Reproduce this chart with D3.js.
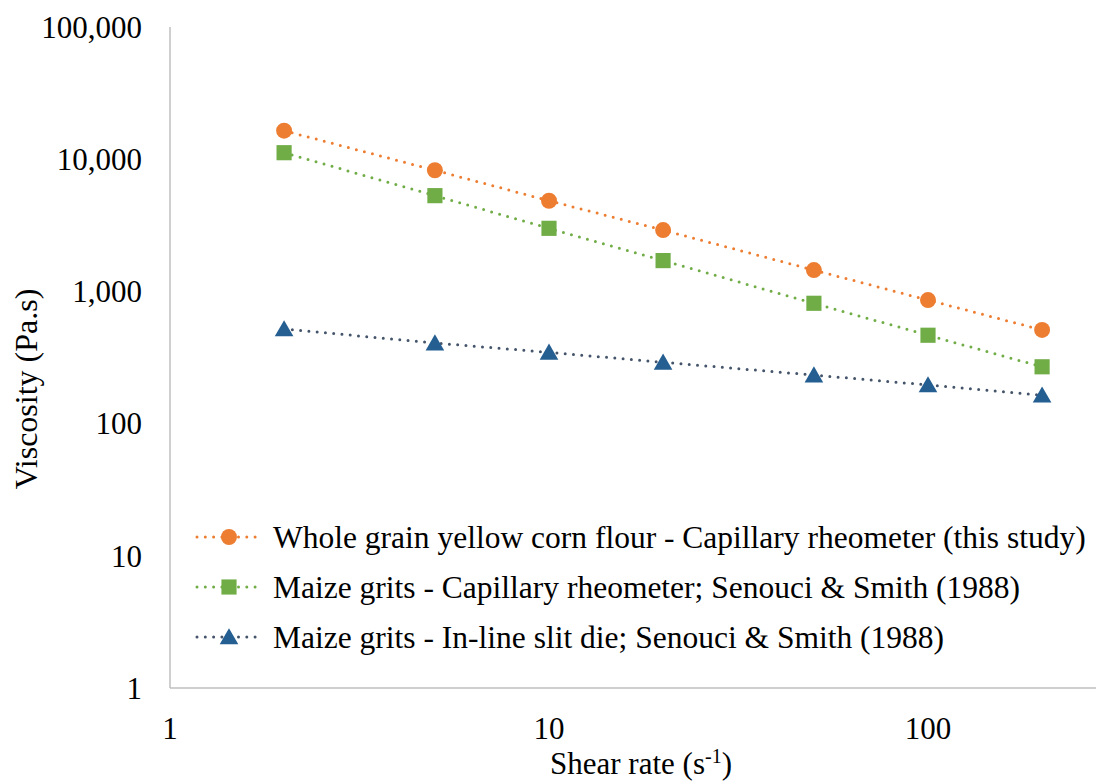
<!DOCTYPE html>
<html>
<head>
<meta charset="utf-8">
<script src="https://cdn.jsdelivr.net/npm/d3@7"></script>
<style>
    html, body { margin: 0; padding: 0; background: #fff; }
    svg { display: block; font-family: "Liberation Serif", "Times New Roman", serif; }
</style>
</head>
<body>
<svg id="chart" width="1096" height="782"></svg>
<script>
// shear rates (1/s)
var shearRates = [2, 5, 10, 20, 50, 100, 200];
// viscosity (Pa.s)
var wholeGrain = [16430, 8250, 4850, 2910, 1450, 860, 511];
var maizeCapillary = [11200, 5300, 3000, 1710, 813, 466, 269];
var maizeSlitDie = [520, 407, 346, 291, 233, 196, 164];
var seriesNames = [
    "Whole grain yellow corn flour - Capillary rheometer (this study)",
    "Maize grits - Capillary rheometer; Senouci & Smith (1988)",
    "Maize grits - In-line slit die; Senouci & Smith (1988)"
];
var xTicks = [1, 10, 100];
var yTicks = [1, 10, 100, 1000, 10000, 100000];

var series = [
    { name: seriesNames[0], values: wholeGrain, line: "#ED7D31", fill: "#ED7D31", symbol: d3.symbolCircle },
    { name: seriesNames[1], values: maizeCapillary, line: "#70AD47", fill: "#70AD47", symbol: d3.symbolSquare },
    { name: seriesNames[2], values: maizeSlitDie, line: "#44546A", fill: "#255E91", symbol: d3.symbolTriangle }
];

var svg = d3.select("#chart");
var plotLeft = 170, plotBottom = 688, plotTop = 27;
var decadeX = 379;
var fontSize = 32;

// x runs 1..1000, the last decade falls past the right edge
var x = d3.scaleLog().domain([1, 1000]).range([plotLeft, plotLeft + 3 * decadeX]);
var y = d3.scaleLog().domain([1, 100000]).range([plotBottom, plotTop]);
var fmt = d3.format(",");

// axis lines only, no ticks or grid
svg.append("line")
    .attr("x1", x(1)).attr("x2", x(1))
    .attr("y1", y(100000)).attr("y2", y(1))
    .attr("stroke", "#BFBFBF").attr("stroke-width", 1.5);
svg.append("line")
    .attr("x1", x(1)).attr("x2", x(1000))
    .attr("y1", y(1)).attr("y2", y(1))
    .attr("stroke", "#BFBFBF").attr("stroke-width", 1.5);

svg.append("g").selectAll("text").data(yTicks).enter().append("text")
    .attr("x", 142)
    .attr("y", function (d) { return y(d); })
    .attr("dy", "0.35em")
    .attr("text-anchor", "end")
    .attr("font-size", 31)
    .text(function (d) { return fmt(d); });

svg.append("g").selectAll("text").data(xTicks).enter().append("text")
    .attr("x", function (d) { return x(d); })
    .attr("y", 728)
    .attr("dy", "0.35em")
    .attr("text-anchor", "middle")
    .attr("font-size", 31)
    .text(function (d) { return fmt(d); });

// axis titles
svg.append("text")
    .attr("transform", "translate(37,389) rotate(-90)")
    .attr("text-anchor", "middle")
    .attr("font-size", fontSize)
    .text("Viscosity (Pa.s)");

var xTitle = svg.append("text")
    .attr("x", 641)
    .attr("y", 774)
    .attr("text-anchor", "middle")
    .attr("font-size", 31);
xTitle.append("tspan").text("Shear rate (s");
xTitle.append("tspan").attr("dy", -11).attr("font-size", 20).text("-1");
xTitle.append("tspan").attr("dy", 11).text(")");

var line = d3.line()
    .x(function (d) { return x(d[0]); })
    .y(function (d) { return y(d[1]); });

var symbolSize = function (s) {
    return s === d3.symbolCircle ? 200 : (s === d3.symbolSquare ? 230 : 150);
};

var plot = svg.append("g");
series.forEach(function (s) {
    var pts = shearRates.map(function (r, i) { return [r, s.values[i]]; });
    plot.append("path")
        .attr("d", line(pts))
        .attr("fill", "none")
        .attr("stroke", s.line)
        .attr("stroke-width", 3)
        .attr("stroke-linecap", "round")
        .attr("stroke-dasharray", "0,8.3");
    plot.selectAll(null).data(pts).enter().append("path")
        .attr("transform", function (d) {
            var dy = s.symbol === d3.symbolTriangle ? 2 : 0;
            return "translate(" + x(d[0]) + "," + (y(d[1]) + dy) + ")";
        })
        .attr("d", d3.symbol().type(s.symbol).size(symbolSize(s.symbol)))
        .attr("fill", s.fill);
});

// legend
var legend = svg.append("g");
series.forEach(function (s, i) {
    var ly = 537 + i * 50;
    legend.append("line")
        .attr("x1", 197).attr("x2", 259)
        .attr("y1", ly).attr("y2", ly)
        .attr("stroke", s.line)
        .attr("stroke-width", 3)
        .attr("stroke-linecap", "round")
        .attr("stroke-dasharray", "0,8.3");
    legend.append("path")
        .attr("transform", "translate(229," + (ly + (s.symbol === d3.symbolTriangle ? 2 : 0)) + ")")
        .attr("d", d3.symbol().type(s.symbol).size(symbolSize(s.symbol)))
        .attr("fill", s.fill);
    legend.append("text")
        .attr("x", 273)
        .attr("y", ly)
        .attr("dy", "0.35em")
        .attr("font-size", 31.5)
        .text(s.name);
});
</script>
</body>
</html>
